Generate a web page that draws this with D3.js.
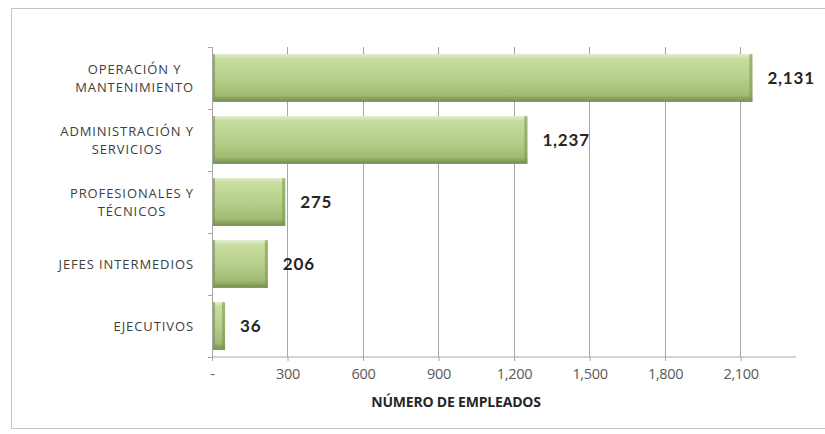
<!DOCTYPE html>
<html><head><meta charset="utf-8">
<script src="https://cdn.jsdelivr.net/npm/d3@7"></script>
<style>
body{margin:0;background:#fff;}
svg{display:block;font-family:"Open Sans", Lato, sans-serif;}
</style></head>
<body><svg id="c" width="825" height="434"></svg>
<script>
const categories = [["OPERACIÓN Y","MANTENIMIENTO"],["ADMINISTRACIÓN Y","SERVICIOS"],["PROFESIONALES Y","TÉCNICOS"],["JEFES INTERMEDIOS"],["EJECUTIVOS"]];
const values = [2131, 1237, 275, 206, 36];
const tickValues = [0, 300, 600, 900, 1200, 1500, 1800, 2100];
const axisTitle = "NÚMERO DE EMPLEADOS";

(function(){
const svg = d3.select("#c");
const pL = 212, pR = 796, pT = 47, pB = 357;

// frame
svg.append("rect").attr("x",11.5).attr("y",8.5).attr("width",830).attr("height",420)
  .attr("fill","#fff").attr("stroke","#c4c4c4").attr("stroke-width",1);

const x = d3.scaleLinear().domain([0, 2320]).range([pL, pR]);
const y = d3.scaleBand().domain(d3.range(values.length)).range([pT, pB]).paddingInner(0.23).paddingOuter(0.115);

const defs = svg.append("defs");
const g1 = defs.append("linearGradient").attr("id","bg").attr("x1",0).attr("y1",0).attr("x2",0).attr("y2",1);
[[0,"#dfeccb"],[0.1,"#c8dd9f"],[0.5,"#b7cf8a"],[0.85,"#a2bc74"],[1,"#718d4a"]].forEach(s=>g1.append("stop").attr("offset",s[0]).attr("stop-color",s[1]));

// gridlines
svg.append("g").selectAll("line").data(tickValues.slice(1)).join("line")
  .attr("x1",d=>x(d)).attr("x2",d=>x(d)).attr("y1",pT).attr("y2",pB)
  .attr("stroke","#a6a6a6").attr("stroke-width",1).attr("shape-rendering","crispEdges");

// x axis
const xAxis = d3.axisBottom(x).tickValues(tickValues).tickSize(4)
  .tickFormat(d=> d===0 ? "-" : d3.format(",")(d));
const gx = svg.append("g").attr("transform",`translate(0,${pB})`).call(xAxis);
gx.select(".domain").attr("stroke","#a6a6a6").attr("d",`M${pL},0H${pR}`);
gx.selectAll(".tick line").attr("stroke","#a6a6a6");
gx.selectAll("text").attr("fill","#595959").attr("font-size",14.5).attr("dy","1.05em")
  .attr("font-family","'Open Sans'").attr("letter-spacing","-0.3");

// y axis line & ticks
svg.append("line").attr("x1",pL).attr("x2",pL).attr("y1",pT).attr("y2",pB).attr("stroke","#a6a6a6").attr("shape-rendering","crispEdges");
const sep = d3.range(values.length+1).map(i=> pT + i*(pB-pT)/values.length);
svg.append("g").selectAll("line").data(sep).join("line")
  .attr("x1",pL-4).attr("x2",pL).attr("y1",d=>d).attr("y2",d=>d).attr("stroke","#a6a6a6").attr("shape-rendering","crispEdges");

// bars
const bars = svg.append("g").selectAll("g").data(values).join("g");
bars.append("rect").attr("x",pL+1).attr("y",(d,i)=>y(i)).attr("width",d=>x(d)-pL+3).attr("height",y.bandwidth()).attr("fill","url(#bg)");
bars.append("rect").attr("x",pL+1).attr("y",(d,i)=>y(i)).attr("width",2).attr("height",y.bandwidth()).attr("fill","#7d9955").attr("opacity",0.7);
bars.append("rect").attr("x",d=>x(d)+1).attr("y",(d,i)=>y(i)).attr("width",3).attr("height",y.bandwidth()).attr("fill","#7d9955").attr("opacity",0.6);

// value labels
svg.append("g").selectAll("text").data(values).join("text")
  .attr("x",d=>x(d)+19).attr("y",(d,i)=>y(i)+y.bandwidth()/2).attr("dy","0.36em")
  .attr("font-size",17).attr("font-weight","bold").attr("fill","#262626")
  .attr("font-family","Lato").attr("letter-spacing","0.8")
  .text(d=>d3.format(",")(d));

// category labels: lines centered within a block right-aligned at 194
const labelRight = 194;
const cl = svg.append("g").selectAll("text").data(categories).join("text")
  .attr("text-anchor","middle").attr("font-size",13).attr("fill","#404040")
  .attr("letter-spacing","0.9")
  .attr("y",(d,i)=>y(i)+y.bandwidth()/2);
cl.each(function(d){
  const t = d3.select(this);
  const n = d.length;
  const spans = d.map((line,k)=> t.append("tspan")
    .attr("dy", k===0 ? ((0.36 - (n-1)*0.685)+"em") : "1.37em").text(line));
  const w = d3.max(spans, s=> s.node().getComputedTextLength());
  const cx = labelRight - w/2;
  spans.forEach(s=> s.attr("x", cx));
});

// axis title
svg.append("text").attr("x",456).attr("y",407).attr("text-anchor","middle")
  .attr("font-size",14).attr("font-weight","bold").attr("fill","#262626").attr("letter-spacing","-0.2").text(axisTitle);
})();
</script></body></html>
